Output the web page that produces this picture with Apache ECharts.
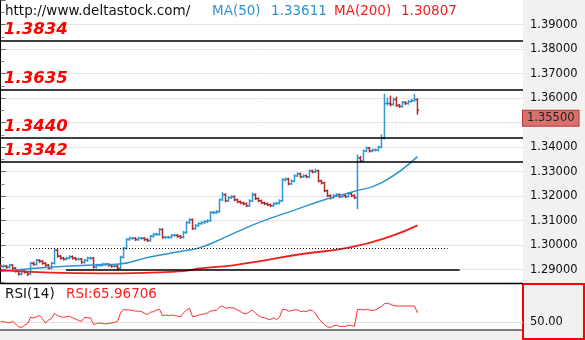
<!DOCTYPE html>
<html>
<head>
<meta charset="utf-8">
<script src="https://cdn.jsdelivr.net/npm/echarts@6/dist/echarts.min.js"></script>
<style>
  html, body { margin: 0; padding: 0; background: #fff; }
  #chart { width: 585px; height: 340px; }
</style>
</head>
<body>
<div id="chart"></div>
<script>
// Price bars (open / high / low / close), one per period
const opens = [
  1.2916,1.2914,1.2914,1.2910,1.2918,1.2906,1.2894,1.2882,1.2898,1.2890,
  1.2882,1.2926,1.2922,1.2938,1.2934,1.2926,1.2918,1.2906,1.2926,1.2979,
  1.2955,1.2947,1.2943,1.2947,1.2953,1.2947,1.2943,1.2943,1.2930,1.2938,
  1.2947,1.2947,1.2910,1.2918,1.2918,1.2922,1.2922,1.2918,1.2914,1.2914,
  1.2906,1.2951,1.2987,1.3023,1.3028,1.3028,1.3023,1.3028,1.3028,1.3023,
  1.3019,1.3036,1.3044,1.3044,1.3064,1.3032,1.3032,1.3032,1.3040,1.3040,
  1.3036,1.3032,1.3052,1.3092,1.3104,1.3068,1.3080,1.3088,1.3092,1.3096,
  1.3100,1.3133,1.3133,1.3137,1.3185,1.3206,1.3181,1.3194,1.3198,1.3185,
  1.3177,1.3173,1.3169,1.3161,1.3181,1.3206,1.3190,1.3181,1.3173,1.3169,
  1.3165,1.3161,1.3169,1.3171,1.3181,1.3266,1.3270,1.3250,1.3262,1.3283,
  1.3291,1.3279,1.3283,1.3279,1.3303,1.3299,1.3303,1.3262,1.3254,1.3222,
  1.3202,1.3194,1.3202,1.3206,1.3198,1.3202,1.3198,1.3210,1.3202,1.3194,
  1.3355,1.3343,1.3384,1.3396,1.3384,1.3388,1.3388,1.3400,1.3436,1.3578,
  1.3578,1.3574,1.3594,1.3570,1.3566,1.3582,1.3578,1.3586,1.3590,1.3594
];
const highs = [
  1.2920,1.2919,1.2917,1.2922,1.2921,1.2909,1.2897,1.2902,1.2901,1.2893,
  1.2930,1.2931,1.2942,1.2941,1.2937,1.2929,1.2921,1.2930,1.2987,1.2983,
  1.2958,1.2950,1.2951,1.2957,1.2956,1.2950,1.2947,1.2946,1.2942,1.2951,
  1.2951,1.2950,1.2922,1.2922,1.2926,1.2926,1.2925,1.2921,1.2918,1.2917,
  1.2955,1.2991,1.3027,1.3032,1.3032,1.3031,1.3032,1.3032,1.3031,1.3026,
  1.3040,1.3048,1.3048,1.3068,1.3067,1.3036,1.3036,1.3044,1.3044,1.3043,
  1.3039,1.3056,1.3096,1.3108,1.3107,1.3084,1.3092,1.3096,1.3100,1.3104,
  1.3137,1.3137,1.3141,1.3189,1.3214,1.3209,1.3198,1.3202,1.3201,1.3188,
  1.3180,1.3176,1.3172,1.3185,1.3212,1.3209,1.3193,1.3184,1.3176,1.3172,
  1.3168,1.3173,1.3175,1.3185,1.3272,1.3274,1.3273,1.3266,1.3287,1.3295,
  1.3294,1.3287,1.3286,1.3307,1.3306,1.3310,1.3306,1.3265,1.3257,1.3225,
  1.3205,1.3206,1.3210,1.3209,1.3206,1.3205,1.3214,1.3213,1.3205,1.3368,
  1.3362,1.3388,1.3400,1.3399,1.3392,1.3392,1.3404,1.3450,1.3615,1.3600,
  1.3608,1.3600,1.3604,1.3574,1.3586,1.3585,1.3590,1.3594,1.3615,1.3597
];
const lows = [
  1.2910,1.2909,1.2906,1.2907,1.2902,1.2890,1.2878,1.2879,1.2886,1.2876,
  1.2880,1.2918,1.2919,1.2930,1.2922,1.2914,1.2902,1.2903,1.2923,1.2951,
  1.2943,1.2939,1.2940,1.2944,1.2943,1.2939,1.2939,1.2926,1.2927,1.2935,
  1.2943,1.2906,1.2907,1.2914,1.2915,1.2918,1.2914,1.2910,1.2910,1.2900,
  1.2903,1.2948,1.2984,1.3020,1.3024,1.3019,1.3020,1.3024,1.3019,1.3015,
  1.3016,1.3033,1.3040,1.3041,1.3028,1.3028,1.3028,1.3029,1.3036,1.3032,
  1.3028,1.3029,1.3049,1.3089,1.3064,1.3065,1.3077,1.3085,1.3089,1.3093,
  1.3097,1.3129,1.3130,1.3134,1.3182,1.3177,1.3178,1.3191,1.3181,1.3173,
  1.3169,1.3165,1.3157,1.3158,1.3178,1.3186,1.3177,1.3169,1.3165,1.3161,
  1.3157,1.3158,1.3166,1.3168,1.3178,1.3262,1.3246,1.3247,1.3259,1.3280,
  1.3275,1.3276,1.3275,1.3276,1.3295,1.3296,1.3258,1.3250,1.3218,1.3198,
  1.3188,1.3191,1.3199,1.3194,1.3195,1.3194,1.3195,1.3198,1.3190,1.3149,
  1.3339,1.3340,1.3381,1.3380,1.3381,1.3384,1.3385,1.3397,1.3433,1.3572,
  1.3568,1.3571,1.3566,1.3562,1.3563,1.3574,1.3575,1.3583,1.3587,1.3534
];
const closes = [
  1.2914,1.2914,1.2910,1.2918,1.2906,1.2894,1.2882,1.2898,1.2890,1.2882,
  1.2926,1.2922,1.2938,1.2934,1.2926,1.2918,1.2906,1.2926,1.2979,1.2955,
  1.2947,1.2943,1.2947,1.2953,1.2947,1.2943,1.2943,1.2930,1.2938,1.2947,
  1.2947,1.2910,1.2918,1.2918,1.2922,1.2922,1.2918,1.2914,1.2914,1.2906,
  1.2951,1.2987,1.3023,1.3028,1.3028,1.3023,1.3028,1.3028,1.3023,1.3019,
  1.3036,1.3044,1.3044,1.3064,1.3032,1.3032,1.3032,1.3040,1.3040,1.3036,
  1.3032,1.3052,1.3092,1.3104,1.3068,1.3080,1.3088,1.3092,1.3096,1.3100,
  1.3133,1.3133,1.3137,1.3185,1.3206,1.3181,1.3194,1.3198,1.3185,1.3177,
  1.3173,1.3169,1.3161,1.3181,1.3206,1.3190,1.3181,1.3173,1.3169,1.3165,
  1.3161,1.3169,1.3171,1.3181,1.3266,1.3270,1.3250,1.3262,1.3283,1.3291,
  1.3279,1.3283,1.3279,1.3303,1.3299,1.3303,1.3262,1.3254,1.3222,1.3202,
  1.3194,1.3202,1.3206,1.3198,1.3202,1.3198,1.3210,1.3202,1.3194,1.3355,
  1.3343,1.3384,1.3396,1.3384,1.3388,1.3388,1.3400,1.3436,1.3578,1.3578,
  1.3574,1.3594,1.3570,1.3566,1.3582,1.3578,1.3586,1.3590,1.3594,1.3550
];

// Moving averages as [bar index, value]
const ma50Points = [
  [0,1.2894],[8,1.2902],[16.5,1.2910],[33,1.2920],[38.8,1.2922],[49.8,1.2952],
  [60.8,1.2976],[66.5,1.2990],[72.1,1.3017],[77.5,1.3047],[86.5,1.3094],
  [97.5,1.3141],[108.8,1.3188],[117.5,1.3218],[127.1,1.3255],[139,1.33611]
];
const ma200Points = [
  [0,1.2898],[16.5,1.2888],[33,1.2885],[49.8,1.2888],[60.8,1.2894],[66.5,1.2905],
  [77.5,1.2918],[86.5,1.2935],[100,1.2963],[116.5,1.2991],[130,1.3036],[139,1.30807]
];

// RSI(14), one value per bar
const rsiValues = [
  51,50,49,48,51,46,41,40,44,47,
  58,57,59,61,55,48,53,56,65,61,
  59,58,59,60,57,55,52,51,58,57,
  57,45,47,48,47,46,47,48,49,51,
  66,72,71,71,70,69,69,68,65,63,
  67,68,71,72,61,62,61,62,61,60,
  59,66,71,74,59,60,62,63,64,66,
  69,70,71,76,78,74,75,75,74,71,
  68,65,64,68,71,65,61,58,57,55,
  54,57,54,58,72,72,69,70,71,71,
  68,69,68,71,70,65,56,50,45,41,
  40,43,44,42,42,42,44,43,42,72,
  72,71,72,71,70,71,74,77,82,83,
  81,79,78,78,78,78,78,78,78,65.96706
];

// Horizontal support / resistance levels
const levels = [1.3834, 1.3635, 1.3440, 1.3342];
// Trend segments: [start bar, end bar, price]
const dottedSegment = [9.8, 149.1, 1.2988];
const baseSegment = [21.8, 153.1, 1.2898];

const UP = '#2f97d3';
const DOWN = '#b22a2a';
const MA50_COLOR = '#2f93d1';
const MA200_COLOR = '#f01e1e';

const barIdx = closes.map((_, i) => i);
const bars = barIdx.map(i => [i, opens[i], highs[i], lows[i], closes[i]]);
const rsiData = barIdx.map(i => [i, rsiValues[i]]);
const lastClose = closes[closes.length - 1];
const lastMa50 = ma50Points[ma50Points.length - 1][1];
const lastMa200 = ma200Points[ma200Points.length - 1][1];
const lastRsi = rsiValues[rsiValues.length - 1];

function renderOhlc(params, api) {
  const i = api.value(0);
  const o = api.value(1), h = api.value(2), l = api.value(3), c = api.value(4);
  const pH = api.coord([i, h]);
  const pL = api.coord([i, l]);
  const pO = api.coord([i, o]);
  const pC = api.coord([i, c]);
  const x = pH[0];
  const color = c >= o ? UP : DOWN;
  const st = { stroke: color, lineWidth: 1.5 };
  return {
    type: 'group',
    children: [
      { type: 'line', shape: { x1: x, y1: pH[1] - 0.5, x2: x, y2: pL[1] + 0.5 }, style: st },
      { type: 'line', shape: { x1: x - 1.7, y1: pO[1], x2: x, y2: pO[1] }, style: st },
      { type: 'line', shape: { x1: x, y1: pC[1], x2: x + 1.7, y2: pC[1] }, style: st }
    ]
  };
}

const levelLabel = {
  show: true,
  position: 'insideStartTop',
  distance: 2,
  offset: [2, 0],
  formatter: p => p.value.toFixed(4),
  color: '#ff0000',
  fontFamily: 'DejaVu Sans',
  fontWeight: 'bold',
  fontStyle: 'italic',
  fontSize: 16.5
};

const chart = echarts.init(document.getElementById('chart'), null, { renderer: 'canvas' });

chart.setOption({
  animation: false,
  backgroundColor: '#ffffff',
  grid: [
    { left: 0, top: -2.2, width: 523, height: 296.4 },
    { left: 0, top: 284, width: 523, height: 46 }
  ],
  xAxis: [
    { type: 'value', gridIndex: 0, min: -0.2, max: 174.2, show: false },
    { type: 'value', gridIndex: 1, min: -0.2, max: 174.2, show: false }
  ],
  yAxis: [
    {
      type: 'value', gridIndex: 0, position: 'right',
      min: 1.28, max: 1.40, interval: 0.01,
      axisLine: { show: true, lineStyle: { color: '#000', width: 1 } },
      axisTick: { show: true, length: 5, lineStyle: { color: '#666' } },
      minorTick: { show: true, splitNumber: 2, length: 4, lineStyle: { color: '#888' } },
      splitLine: { show: true, showMinLine: false, showMaxLine: false, lineStyle: { color: '#e4e4e4', width: 1 } },
      axisLabel: {
        show: true, margin: 7, showMinLabel: false, showMaxLabel: false,
        formatter: v => v.toFixed(5),
        fontFamily: 'DejaVu Sans', fontSize: 11.5, color: '#111'
      }
    },
    {
      type: 'value', gridIndex: 1, position: 'right',
      min: 35.5, max: 117, z: 10,
      axisLine: { show: false },
      axisTick: { show: false },
      splitLine: { show: false },
      axisLabel: {
        show: true, margin: 7, customValues: [50],
        formatter: v => v.toFixed(2),
        fontFamily: 'DejaVu Sans', fontSize: 11.5, color: '#111'
      }
    }
  ],
  graphic: {
    elements: [
      // right-hand scale background
      { type: 'rect', z: -1, shape: { x: 523, y: 0, width: 62, height: 284 }, style: { fill: '#f1f1f1' } },
      // indicator panel background and frame
      { type: 'rect', z: 1, shape: { x: 0, y: 284, width: 522, height: 46 }, style: { fill: '#ffffff' } },
      { type: 'rect', z: 1, shape: { x: 523, y: 284, width: 61, height: 55 }, style: { fill: '#f1f1f1', stroke: '#ff0000', lineWidth: 2 } },
      { type: 'rect', z: 3, shape: { x: 0, y: 330, width: 522, height: 10 }, style: { fill: '#f1f1f1' } },
      { type: 'line', z: 3, shape: { x1: 0, y1: 283.5, x2: 523, y2: 283.5 }, style: { stroke: '#000', lineWidth: 1.5 } },
      { type: 'line', z: 3, shape: { x1: 0, y1: 330, x2: 522, y2: 330 }, style: { stroke: '#000', lineWidth: 1.2 } },
      // header
      { type: 'text', z: 10, x: 5, y: 4, style: { text: 'http://www.deltastock.com/', fill: '#111', font: '13.5px "DejaVu Sans"' } },
      { type: 'text', z: 10, x: 212, y: 4, style: { text: 'MA(50)', fill: MA50_COLOR, font: '13.5px "DejaVu Sans"' } },
      { type: 'text', z: 10, x: 271, y: 4, style: { text: lastMa50.toFixed(5), fill: MA50_COLOR, font: '13.5px "DejaVu Sans"' } },
      { type: 'text', z: 10, x: 334, y: 4, style: { text: 'MA(200)', fill: MA200_COLOR, font: '13.5px "DejaVu Sans"' } },
      { type: 'text', z: 10, x: 401, y: 4, style: { text: lastMa200.toFixed(5), fill: MA200_COLOR, font: '13.5px "DejaVu Sans"' } },
      { type: 'text', z: 10, x: 5, y: 287, style: { text: 'RSI(14)', fill: '#111', font: '13.5px "DejaVu Sans"' } },
      { type: 'text', z: 10, x: 66, y: 287, style: { text: 'RSI:' + lastRsi.toFixed(5), fill: '#ff2020', font: '13.5px "DejaVu Sans"' } }
    ]
  },
  series: [
    {
      name: 'price',
      type: 'custom',
      xAxisIndex: 0, yAxisIndex: 0,
      renderItem: renderOhlc,
      encode: { x: 0, y: [1, 2, 3, 4] },
      data: bars,
      z: 3,
      markLine: {
        silent: true,
        precision: 5,
        symbol: ['none', 'none'],
        animation: false,
        data: [
          ...levels.map(v => ({ yAxis: v, label: levelLabel, lineStyle: { color: '#000', width: 1.5, type: 'solid' } })),
          [
            { coord: [dottedSegment[0], dottedSegment[2]], lineStyle: { color: '#000', width: 1, type: [1, 2] }, label: { show: false } },
            { coord: [dottedSegment[1], dottedSegment[2]] }
          ],
          [
            { coord: [baseSegment[0], baseSegment[2]], lineStyle: { color: '#000', width: 1.5, type: 'solid' }, label: { show: false } },
            { coord: [baseSegment[1], baseSegment[2]] }
          ],
          {
            yAxis: lastClose,
            lineStyle: { color: 'rgba(0,0,0,0)', width: 1 },
            label: {
              show: true, position: 'end', distance: 0, offset: [0, 8],
              formatter: p => p.value.toFixed(5),
              backgroundColor: '#d9706c', borderColor: '#b23a36', borderWidth: 1,
              padding: [2, 4, 1, 4],
              color: '#222', fontFamily: 'DejaVu Sans', fontSize: 11.5
            }
          }
        ]
      }
    },
    {
      name: 'MA(50)', type: 'line', xAxisIndex: 0, yAxisIndex: 0,
      data: ma50Points, smooth: true, showSymbol: false, z: 4,
      lineStyle: { color: MA50_COLOR, width: 1.5 }
    },
    {
      name: 'MA(200)', type: 'line', xAxisIndex: 0, yAxisIndex: 0,
      data: ma200Points, smooth: true, showSymbol: false, z: 4,
      lineStyle: { color: MA200_COLOR, width: 1.8 }
    },
    {
      name: 'RSI', type: 'line', xAxisIndex: 1, yAxisIndex: 1,
      data: rsiData, showSymbol: false, z: 5,
      lineStyle: { color: '#ff2a2a', width: 1 },
      markLine: {
        silent: true, symbol: ['none', 'none'], animation: false,
        label: { show: false },
        lineStyle: { color: '#e2e2e2', width: 1, type: 'solid' },
        data: [{ yAxis: 50 }]
      }
    }
  ]
});
</script>
</body>
</html>
